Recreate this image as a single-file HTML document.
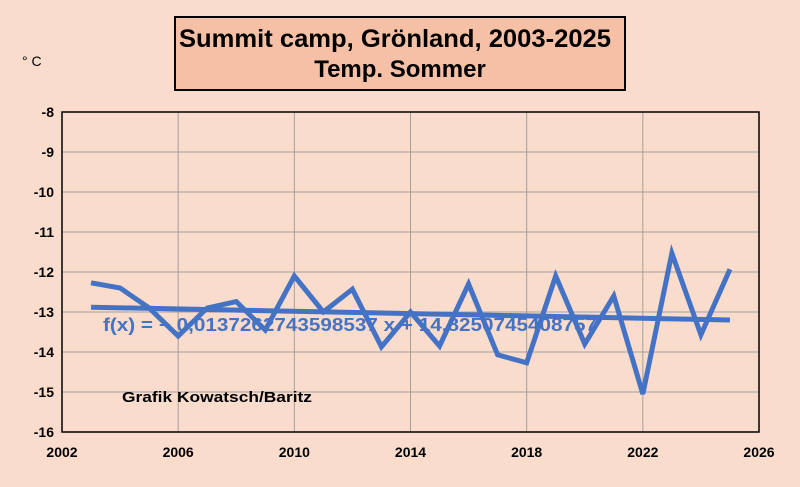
<!DOCTYPE html>
<html><head><meta charset="utf-8"><style>
body{margin:0;background:#fadccc;}
svg{display:block;font-family:"Liberation Sans",Arial,sans-serif;}
</style></head><body>
<svg width="800" height="487" viewBox="0 0 800 487">
<rect x="0" y="0" width="800" height="487" fill="#fadccc"/>
<g id="grid"></g>
<g id="series"></g>
<rect x="175" y="17" width="450" height="73" fill="#f6c0a6" stroke="#000" stroke-width="2"/>
<text x="179" y="47" textLength="432" lengthAdjust="spacingAndGlyphs" font-size="25" font-weight="bold">Summit camp, Grönland, 2003-2025</text>
<text x="400" y="77" text-anchor="middle" font-size="24" font-weight="bold">Temp. Sommer</text>
<text x="22" y="66" font-size="14">° C</text>
<text x="103" y="331" textLength="494" lengthAdjust="spacingAndGlyphs" font-size="18" font-weight="bold" fill="#4472c4">f(x) = − 0,0137262743598537 x + 14,8250745408757</text>
<text x="122" y="402" textLength="190" lengthAdjust="spacingAndGlyphs" font-size="15" font-weight="bold">Grafik Kowatsch/Baritz</text>
</svg>
<script>
const years=[2003,2004,2005,2006,2007,2008,2009,2010,2011,2012,2013,2014,2015,2016,2017,2018,2019,2020,2021,2022,2023,2024,2025];
const temps=[-12.27,-12.4,-12.9,-13.6,-12.9,-12.74,-13.45,-12.1,-13.0,-12.43,-13.87,-13.0,-13.85,-12.3,-14.07,-14.27,-12.1,-13.8,-12.6,-15.05,-11.53,-13.57,-11.93];
const trendEnds=[-12.88,-13.2];
const xTicks=[2002,2006,2010,2014,2018,2022,2026];
const yTicks=[-8,-9,-10,-11,-12,-13,-14,-15,-16];
const L=62,R=759,T=112,B=432;
const xs=v=>L+(v-2002)/(2026-2002)*(R-L);
const ys=v=>T+(-8-v)/8*(B-T);
const NS='http://www.w3.org/2000/svg';
function mk(tag,attrs,parent){const e=document.createElementNS(NS,tag);for(const k in attrs)e.setAttribute(k,attrs[k]);parent.appendChild(e);return e;}
const g=document.getElementById('grid');
yTicks.forEach(t=>{const l=mk('line',{x1:L,x2:R,y1:ys(t),y2:ys(t),stroke:'#a0a0a0','stroke-width':1},g);


const tx=mk('text',{x:L-8,y:ys(t)+5,'text-anchor':'end','font-size':14,'font-weight':'bold'},g);tx.textContent=t;

});
xTicks.forEach(t=>{const l=mk('line',{x1:xs(t),x2:xs(t),y1:T,y2:B,stroke:'#a0a0a0','stroke-width':1},g);


const tx=mk('text',{x:xs(t),y:B+25,'text-anchor':'middle','font-size':14,'font-weight':'bold'},g);tx.textContent=t;

});
const frame=mk('rect',{x:L,y:T,width:R-L,height:B-T,fill:'none',stroke:'#000','stroke-width':1.5},g);


const s=document.getElementById('series');
const tr=mk('line',{x1:xs(years[0]),y1:ys(trendEnds[0]),x2:xs(years[years.length-1]),y2:ys(trendEnds[1]),stroke:'#4472c4','stroke-width':5},s);


const p=mk('polyline',{points:years.map((y,i)=>xs(y)+','+ys(temps[i])).join(' '),fill:'none',stroke:'#4472c4','stroke-width':5,'stroke-linejoin':'miter'},s);


</script>
</body></html>
